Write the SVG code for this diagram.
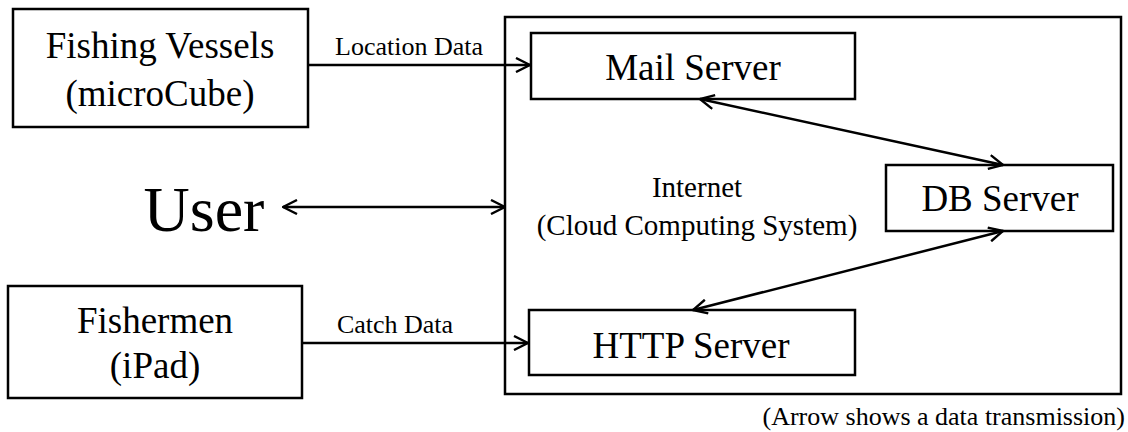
<svg xmlns="http://www.w3.org/2000/svg" width="1128" height="432" viewBox="0 0 1128 432">
  <defs>
    <marker id="chev-end" viewBox="0 0 16 16" refX="15" refY="8" markerWidth="16" markerHeight="16" markerUnits="userSpaceOnUse" orient="auto">
      <path d="M1,1 L15,8 L1,15" fill="none" stroke="#000" stroke-width="2.4"/>
    </marker>
    <marker id="chev-start" viewBox="0 0 16 16" refX="1" refY="8" markerWidth="16" markerHeight="16" markerUnits="userSpaceOnUse" orient="auto">
      <path d="M15,1 L1,8 L15,15" fill="none" stroke="#000" stroke-width="2.4"/>
    </marker>
  </defs>

  <g id="cloud">
    <rect x="505" y="17" width="616" height="377" fill="none" stroke="#000" stroke-width="2.5"/>
    <text font-family="Liberation Serif" font-size="29" text-anchor="middle" x="697" y="197">Internet</text>
    <text font-family="Liberation Serif" font-size="29" text-anchor="middle" x="697" y="235">(Cloud Computing System)</text>
  </g>

  <g id="fishing-vessels">
    <rect x="13" y="9" width="295" height="118" fill="#fff" stroke="#000" stroke-width="2.5"/>
    <text font-family="Liberation Serif" font-size="37" text-anchor="middle" x="160" y="58">Fishing Vessels</text>
    <text font-family="Liberation Serif" font-size="37" text-anchor="middle" x="160" y="106">(microCube)</text>
  </g>

  <g id="fishermen">
    <rect x="8" y="286" width="294" height="112" fill="#fff" stroke="#000" stroke-width="2.5"/>
    <text font-family="Liberation Serif" font-size="37" text-anchor="middle" x="155" y="333">Fishermen</text>
    <text font-family="Liberation Serif" font-size="37" text-anchor="middle" x="155" y="378">(iPad)</text>
  </g>

  <g id="user">
    <text font-family="Liberation Serif" font-size="64" text-anchor="middle" x="204" y="231">User</text>
  </g>

  <g id="mail-server">
    <rect x="531" y="33" width="324" height="66" fill="#fff" stroke="#000" stroke-width="2.5"/>
    <text font-family="Liberation Serif" font-size="37" text-anchor="middle" x="693" y="80">Mail Server</text>
  </g>

  <g id="db-server">
    <rect x="886" y="165" width="227" height="66" fill="#fff" stroke="#000" stroke-width="2.5"/>
    <text font-family="Liberation Serif" font-size="37" text-anchor="middle" x="1000" y="211">DB Server</text>
  </g>

  <g id="http-server">
    <rect x="529" y="310" width="326" height="65" fill="#fff" stroke="#000" stroke-width="2.5"/>
    <text font-family="Liberation Serif" font-size="37" text-anchor="middle" x="691" y="358">HTTP Server</text>
  </g>

  <g id="connectors" fill="none" stroke="#000" stroke-width="2.5">
    <line x1="308" y1="65" x2="530" y2="65" marker-end="url(#chev-end)"/>
    <line x1="302" y1="343" x2="528" y2="343" marker-end="url(#chev-end)"/>
    <line x1="283" y1="207" x2="505" y2="207" marker-start="url(#chev-start)" marker-end="url(#chev-end)"/>
    <line x1="700" y1="99" x2="1003" y2="165" marker-start="url(#chev-start)" marker-end="url(#chev-end)"/>
    <line x1="1003" y1="231" x2="693" y2="310" marker-start="url(#chev-start)" marker-end="url(#chev-end)"/>
  </g>
  <g id="connector-labels">
    <text font-family="Liberation Serif" font-size="26" text-anchor="middle" x="409" y="55">Location Data</text>
    <text font-family="Liberation Serif" font-size="26" text-anchor="middle" x="395" y="333">Catch Data</text>
  </g>

  <text font-family="Liberation Serif" font-size="26" text-anchor="end" x="1125" y="425">(Arrow shows a data transmission)</text>
</svg>
